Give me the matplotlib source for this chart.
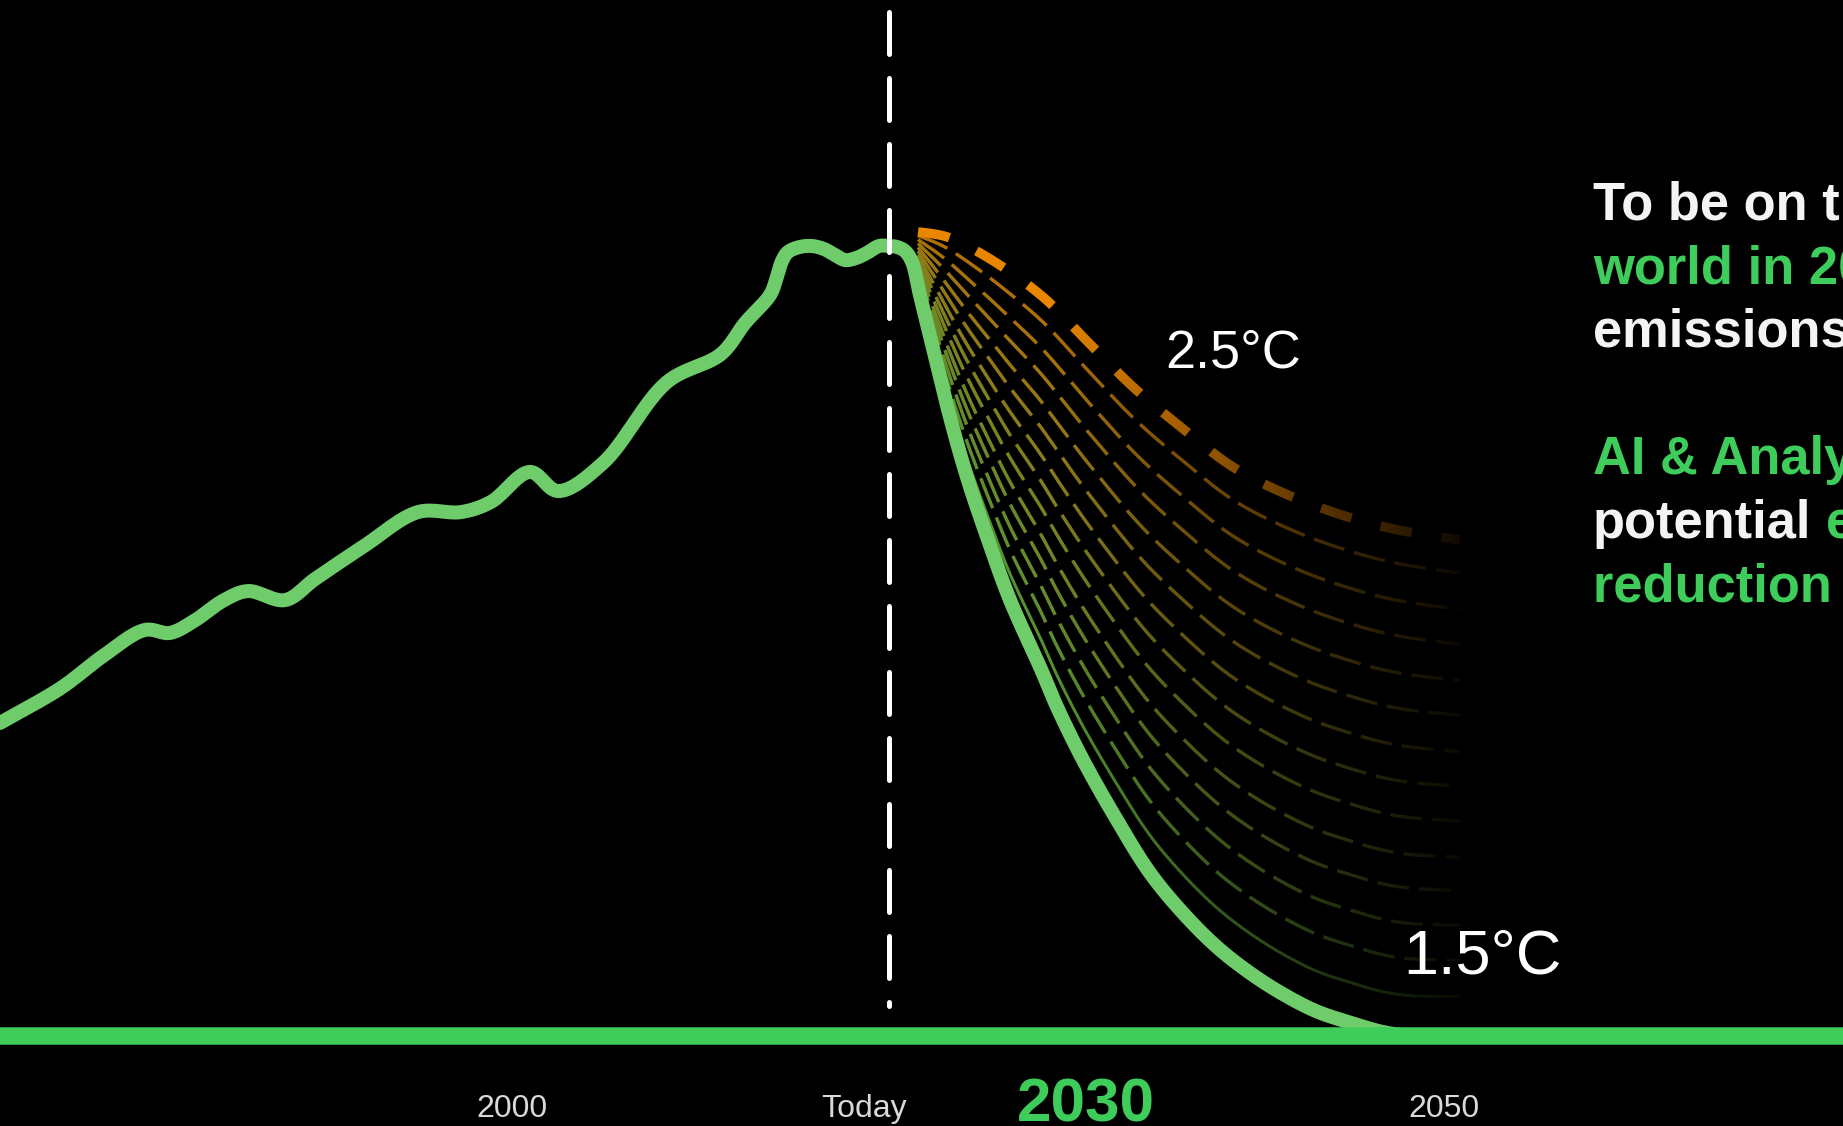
import numpy as np
import matplotlib
matplotlib.use("Agg")
import matplotlib.pyplot as plt

plt.rcParams['lines.scale_dashes'] = False

# ---------------- data ----------------
# historical emissions (arbitrary units), year
hist_years = [1972.56, 1975.83, 1978.08, 1980.33, 1981.67, 1982.96, 1984.57, 1985.85,
              1987.84, 1989.44, 1992.07, 1994.96, 1997.27, 1998.87, 2000.96, 2002.47,
              2004.88, 2008.31, 2011.20, 2012.49, 2013.83, 2014.15, 2014.47, 2014.79,
              2015.43, 2016.08, 2016.72, 2017.31, 2017.85, 2018.44, 2019.02, 2019.67,
              2020.20, 2020.63]
hist_values = [19.81, 22.03, 24.05, 25.70, 25.51, 26.27, 27.59, 28.16,
               27.59, 28.92, 31.01, 33.16, 33.16, 33.80, 35.70, 34.49,
               36.27, 41.39, 43.16, 45.13, 46.90, 47.85, 49.05, 49.62,
               49.94, 50.00, 49.81, 49.43, 49.11, 49.24, 49.56, 50.00,
               50.00, 49.94]

# 1.5 degC pathway
p15_years = [2021.06, 2021.44, 2021.86, 2022.56, 2023.47, 2024.38, 2025.46, 2026.69,
             2028.30, 2029.21, 2030.60, 2032.42, 2034.19, 2035.96, 2037.78, 2039.55,
             2041.32, 2043.14, 2044.91, 2046.68, 2048.13, 2050.80]
p15_values = [49.68, 48.99, 46.90, 43.54, 39.18, 35.38, 31.58, 27.59,
              23.35, 20.82, 17.47, 13.67, 10.32, 7.78, 5.63, 3.99,
              2.65, 1.55, 0.85, 0.25, 0.02, 0.00]

# 2.5 degC pathway
p25_years = [2021.76, 2022.62, 2023.47, 2025.72, 2028.46, 2030.87, 2033.28, 2035.91,
             2038.64, 2041.59, 2044.80, 2047.48, 2050.80]
p25_values = [50.89, 50.76, 50.51, 49.11, 46.77, 43.92, 41.08, 38.48,
              36.01, 34.24, 32.85, 32.03, 31.39]

# intermediate pathways: emission level reached at the end of the fan
fan_end_values = [29.3, 27.0, 24.8, 22.5, 20.3, 18.0, 15.8, 13.6, 11.3, 9.2, 7.0, 4.8, 2.5]

today_year = 2020.20
tick_labels = ["2000", "Today", "2030", "2050"]
tick_pos = [2000.0, 2018.86, 2030.76, 2049.95]

text_lines = [
    [("To be on track for a 1.5°C", "w")],
    [("world in 2050, global", "g")],
    [("emissions must halve by 2030", "w")],
    [],
    [("AI & Analytics have the", "g")],
    [("potential", "w"), ("emissions", "g")],
    [("reduction of 5-10%", "g")],
]

# ---------------- styling ----------------
W, H = 1843, 1126
DPI = 100
BG = "black"
LINE_GREEN = "#6ECC6A"
BAR_GREEN = "#3ECC5A"
ORANGE = "#E88600"
WHITE = "#F4F4F4"
GREY = "#D9D9D9"
FONT = "Liberation Sans"

PX_PER_YEAR = 18.66
X0_PX = 512.0      # pixel of year 2000
PX_PER_UNIT = 15.8
BASE_PX = 1036.0   # pixel of value 0


def px2year(px):
    return 2000.0 + (px - X0_PX) / PX_PER_YEAR


def px2val(py):
    return (BASE_PX - py) / PX_PER_UNIT


def pt(px):
    return px * 72.0 / DPI


def smooth(xs, ys, n=24, alpha=0.5):
    """Centripetal Catmull-Rom rendering of a polyline (for drawing only)."""
    P = np.column_stack([np.asarray(xs, float) * PX_PER_YEAR,
                         np.asarray(ys, float) * PX_PER_UNIT])
    P = np.vstack([2 * P[0] - P[1], P, 2 * P[-1] - P[-2]])
    out = []
    for i in range(1, len(P) - 2):
        p0, p1, p2, p3 = P[i - 1], P[i], P[i + 1], P[i + 2]
        t0 = 0.0
        t1 = t0 + np.linalg.norm(p1 - p0) ** alpha
        t2 = t1 + np.linalg.norm(p2 - p1) ** alpha
        t3 = t2 + np.linalg.norm(p3 - p2) ** alpha
        t = np.linspace(t1, t2, n, endpoint=False)[:, None]
        A1 = (t1 - t) / (t1 - t0) * p0 + (t - t0) / (t1 - t0) * p1
        A2 = (t2 - t) / (t2 - t1) * p1 + (t - t1) / (t2 - t1) * p2
        A3 = (t3 - t) / (t3 - t2) * p2 + (t - t2) / (t3 - t2) * p3
        B1 = (t2 - t) / (t2 - t0) * A1 + (t - t0) / (t2 - t0) * A2
        B2 = (t3 - t) / (t3 - t1) * A2 + (t - t1) / (t3 - t1) * A3
        C = (t2 - t) / (t2 - t1) * B1 + (t - t1) / (t2 - t1) * B2
        out.append(C)
    out.append(P[-2][None, :])
    C = np.vstack(out)
    return C[:, 0] / PX_PER_YEAR, C[:, 1] / PX_PER_UNIT


fig = plt.figure(figsize=(W / DPI, H / DPI), dpi=DPI, facecolor=BG)
ax = fig.add_axes([0, 0, 1, 1])
ax.set_facecolor(BG)
ax.axis("off")

# ---------------- fan of pathways ----------------
s15x, s15y = smooth(p15_years, p15_values)
s25x, s25y = smooth(p25_years, p25_values)
grid = np.linspace(p25_years[0], p25_years[-1], 600)
g15 = np.interp(grid, s15x, s15y)
g25 = np.interp(grid, s25x, s25y)
end25 = p25_values[-1]

c_g = np.array([78, 148, 52]) / 255.0
c_o = np.array([182, 108, 6]) / 255.0

for i, ev in enumerate(fan_end_values):
    t = ev / end25
    yv = g15 + t * (g25 - g15)
    col = tuple(c_g * (1 - t) + c_o * t)
    if i == len(fan_end_values) - 1:
        ax.plot(grid, yv, color=col, lw=pt(3.0), solid_capstyle="butt", zorder=2)
    else:
        ax.plot(grid, yv, color=col, lw=pt(3.4), dashes=(pt(32), pt(10)),
                dash_capstyle="butt", zorder=2)

ax.plot(s25x, s25y, color=ORANGE, lw=pt(9.5), dashes=(pt(32), pt(30)),
        dash_capstyle="butt", zorder=2.5)

# fade-to-black overlay over the right part of the fan
ramp = np.zeros((1, 256, 4))
ramp[..., 3] = np.linspace(0, 1, 256)
ax.imshow(ramp, extent=[px2year(1050), px2year(1490), 0, px2val(0)],
          aspect="auto", interpolation="bilinear", zorder=3)
ax.fill_between([px2year(1489), px2year(1590)], 0, px2val(0), color=BG, zorder=3, lw=0)

# ---------------- main emissions line ----------------
mx, my = smooth(hist_years + p15_years, hist_values + p15_values, n=16)
ax.plot(mx, my, color=LINE_GREEN, lw=pt(14), solid_joinstyle="round",
        solid_capstyle="round", zorder=4)

# baseline bar
ax.axhline(0, color=BAR_GREEN, lw=pt(17.5), zorder=5)

# today dashed line
ax.plot([today_year, today_year], [px2val(11.5), px2val(1005.5)], color="white",
        lw=pt(5), dashes=(pt(42), pt(24)), dash_capstyle="round", zorder=6)

# ---------------- labels ----------------
ax.text(px2year(1233), px2val(367), "2.5°C", color="white", fontsize=pt(54),
        family=FONT, ha="center", va="baseline", zorder=7)
ax.text(px2year(1482), px2val(973), "1.5°C", color="white", fontsize=pt(63),
        family=FONT, ha="center", va="baseline", zorder=7)

for lab, xp in zip(tick_labels, tick_pos):
    if lab == "2030":
        ax.text(xp, px2val(1121), lab, color=BAR_GREEN, fontsize=pt(62), family=FONT,
                fontweight="bold", ha="center", va="baseline", zorder=7)
    else:
        ax.text(xp, px2val(1117), lab, color=GREY, fontsize=pt(32), family=FONT,
                ha="center", va="baseline", zorder=7)

ax.set_xlim(px2year(0), px2year(W))
ax.set_ylim(px2val(H), px2val(0))

# ---------------- right text block ----------------
tx = 1593.0 / W
fs = pt(52.5)
line_h = 63.6
first_base = 220.0
colors = {"w": WHITE, "g": BAR_GREEN}
fig.canvas.draw()
renderer = fig.canvas.get_renderer()
for li, parts in enumerate(text_lines):
    yb = 1 - (first_base + li * line_h) / H
    if not parts:
        continue
    if len(parts) == 1:
        s, c = parts[0]
        fig.text(tx, yb, s, color=colors[c], fontsize=fs, family=FONT,
                 fontweight="bold", ha="left", va="baseline")
    else:
        full = " ".join(p[0] for p in parts)
        last = parts[-1][0]
        tf = fig.text(tx, yb, full, fontsize=fs, family=FONT, fontweight="bold",
                      ha="left", va="baseline", alpha=0)
        tl = fig.text(tx, yb, last, fontsize=fs, family=FONT, fontweight="bold",
                      ha="left", va="baseline", alpha=0)
        bf = tf.get_window_extent(renderer)
        bl = tl.get_window_extent(renderer)
        tf.remove()
        tl.remove()
        x_last = (bf.x1 - bl.width) / W
        fig.text(tx, yb, parts[0][0], color=colors[parts[0][1]], fontsize=fs,
                 family=FONT, fontweight="bold", ha="left", va="baseline")
        fig.text(x_last, yb, last, color=colors[parts[-1][1]], fontsize=fs,
                 family=FONT, fontweight="bold", ha="left", va="baseline")

fig.savefig("out.png", dpi=DPI, facecolor=BG)
